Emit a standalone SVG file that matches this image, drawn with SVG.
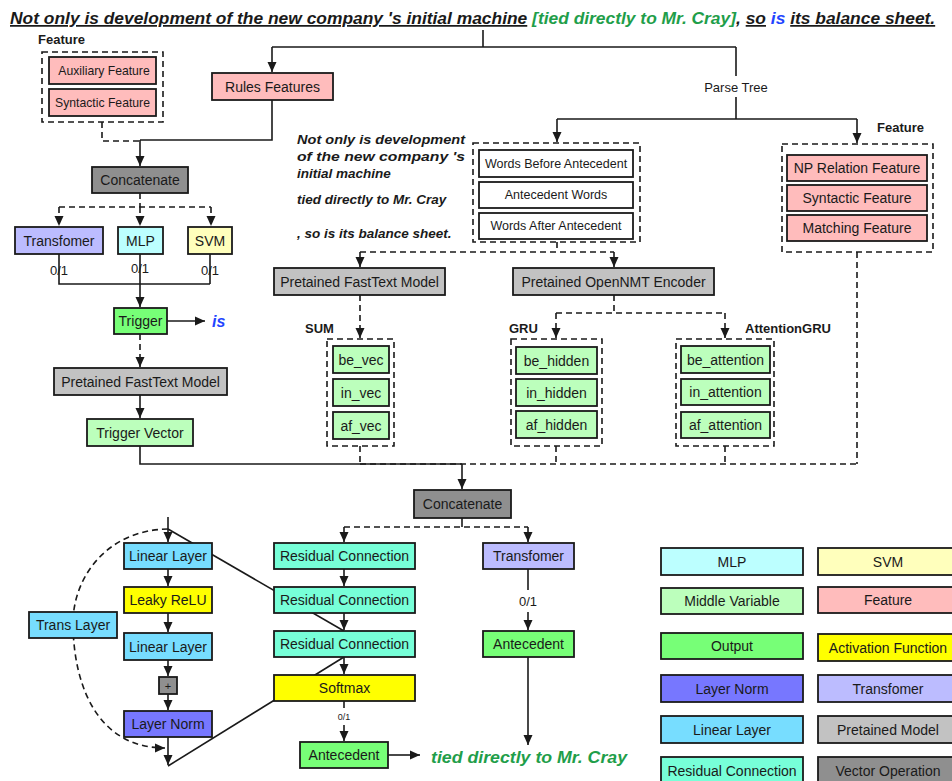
<svg xmlns="http://www.w3.org/2000/svg" width="952" height="781" viewBox="0 0 952 781">
<style>
text{font-family:"Liberation Sans",Arial,sans-serif;fill:#1a1a1a}
.b{stroke:#1a1a1a;stroke-width:1.8}
.t{font-size:14px;text-anchor:middle;dominant-baseline:central}
.ts{font-size:12.5px;text-anchor:middle;dominant-baseline:central}
.tf{font-size:12.2px;text-anchor:middle;dominant-baseline:central}
.lbl{font-size:13px;font-weight:bold}
.it{font-size:13.5px;font-weight:bold;font-style:italic}
.dbox{fill:none;stroke:#1a1a1a;stroke-width:1.6;stroke-dasharray:6,4}
.ln{fill:none;stroke:#1a1a1a;stroke-width:1.6}
.dl{fill:none;stroke:#1a1a1a;stroke-width:1.6;stroke-dasharray:6,4}
.pink{fill:#ffbcbc}.gray{fill:#c2c2c2}.dgray{fill:#8f8f8f}.lgreen{fill:#bcffbc}.green{fill:#77ff77}
.lav{fill:#bcbcff}.cyan{fill:#bcffff}.lyel{fill:#ffffbc}.yel{fill:#ffff00}.blue{fill:#7777ff}
.sky{fill:#77ddff}.teal{fill:#77ffd8}.white{fill:#ffffff}
.ttl{font-size:17.4px;font-weight:bold;font-style:italic}
.u{text-decoration:underline}
.n{font-size:13px;text-anchor:middle}
</style>
<defs>
<marker id="ah" markerWidth="10" markerHeight="10" refX="10" refY="5" orient="auto" markerUnits="userSpaceOnUse" viewBox="0 0 10 10">
<path d="M0,0.5 L10,5 L0,9.5 z" fill="#1a1a1a"/>
</marker>
</defs>
<rect width="952" height="781" fill="#ffffff"/>

<g id="title">
<text class="ttl" x="10" y="24"><tspan class="u">Not only is development of the new company 's initial machine</tspan> <tspan style="fill:#1f9e4a">[tied directly to Mr. Cray]</tspan>, <tspan class="u">so</tspan> <tspan style="fill:#2244ff">is</tspan> <tspan class="u">its balance sheet.</tspan></text>
</g>

<g id="connectors">
<path class="ln" d="M483,30 V47 M272,47 H736 M736,47 V76"/>
<path class="ln" d="M272,47 V72" marker-end="url(#ah)"/>
<path class="ln" d="M736,97 V119 M557,119 H857"/>
<path class="ln" d="M557,119 V142" marker-end="url(#ah)"/>
<path class="ln" d="M857,119 V143" marker-end="url(#ah)"/>
<path class="dl" d="M102,122 V141 H140"/>
<path class="ln" d="M272,100 V140 H140"/>
<path class="ln" d="M140,140 V166" marker-end="url(#ah)"/>
<path class="dl" d="M140,193 V207 M59,207 H211"/>
<path class="dl" d="M59,207 V226" marker-end="url(#ah)"/>
<path class="dl" d="M140,207 V226" marker-end="url(#ah)"/>
<path class="dl" d="M211,207 V226" marker-end="url(#ah)"/>
<path class="ln" d="M59,254 V284 H210 M210,254 V284"/>
<path class="ln" d="M140,254 V307" stroke-width="2" marker-end="url(#ah)"/>
<path class="ln" d="M167,321 H205" marker-end="url(#ah)"/>
<path class="dl" d="M140,334 V367" marker-end="url(#ah)"/>
<path class="ln" d="M140,395 V418" marker-end="url(#ah)"/>
<path class="ln" d="M140,446 V464 H462"/>
<path class="ln" d="M462,464 V489" marker-end="url(#ah)"/>
<path class="dl" d="M557,242 V252 M360,252 H614"/>
<path class="dl" d="M360,252 V267" marker-end="url(#ah)"/>
<path class="dl" d="M614,252 V267" marker-end="url(#ah)"/>
<path class="dl" d="M360,295 V338" marker-end="url(#ah)"/>
<path class="dl" d="M614,295 V313 M556,313 H725"/>
<path class="dl" d="M556,313 V338" marker-end="url(#ah)"/>
<path class="dl" d="M725,313 V338" marker-end="url(#ah)"/>
<path class="dl" d="M360,446 V464 M556,446 V464 M725,446 V464 M360,464 H857 M857,252 V464"/>
<path class="ln" d="M462,518 V527"/>
<path class="dl" d="M344,527 H528"/>
<path class="dl" d="M344,527 V542" marker-end="url(#ah)"/>
<path class="dl" d="M528,527 V542" marker-end="url(#ah)"/>
<path class="ln" d="M344,569 V586" marker-end="url(#ah)"/>
<path class="ln" d="M344,613 V630" marker-end="url(#ah)"/>
<path class="ln" d="M344,657 V674" marker-end="url(#ah)"/>
<path class="ln" d="M344,701 V708"/>
<path class="ln" d="M344,725 V741" marker-end="url(#ah)"/>
<path class="ln" d="M388,755 H420" marker-end="url(#ah)"/>
<path class="ln" d="M528,569 V590"/>
<path class="ln" d="M528,612 V630" marker-end="url(#ah)"/>
<path class="ln" d="M528,657 V745" marker-end="url(#ah)"/>
<path class="ln" d="M168,517 V542" marker-end="url(#ah)"/>
<path class="ln" d="M168,569 V586" marker-end="url(#ah)"/>
<path class="ln" d="M168,613 V632" marker-end="url(#ah)"/>
<path class="ln" d="M168,660 V676" marker-end="url(#ah)"/>
<path class="ln" d="M168,694 V710" marker-end="url(#ah)"/>
<path class="ln" d="M168,737 V765" marker-end="url(#ah)"/>
<path class="ln" d="M168,529 L344,631"/>
<path class="ln" d="M168,766 L344,657"/>
<path class="dl" d="M168,529 C105,530 72,580 73,625 C74,690 100,748 165,748" marker-end="url(#ah)"/>
<text class="n" x="59" y="275">0/1</text>
<text class="n" x="140" y="273">0/1</text>
<text class="n" x="210" y="275">0/1</text>
<text x="344" y="720" style="font-size:9px;text-anchor:middle">0/1</text>
<text class="n" x="528" y="606">0/1</text>
</g>

<g id="feature-left">
<text class="lbl" x="38" y="44">Feature</text>
<rect class="dbox" x="42" y="52" width="121" height="70"/>
</g>
<g id="auxiliary-feature"><rect class="b pink" x="49" y="57" width="107" height="27"/><text class="tf" x="104" y="70.5">Auxiliary Feature</text></g>
<g id="syntactic-feature-left"><rect class="b pink" x="49" y="89" width="107" height="27"/><text class="tf" x="102.5" y="102.5">Syntactic Feature</text></g>
<g id="rules-features"><rect class="b pink" x="212" y="73" width="121" height="27"/><text class="t" x="272.5" y="86.5">Rules Features</text></g>
<g id="parse-tree"><text class="t" x="736" y="87" style="font-size:13px">Parse Tree</text></g>
<g id="concatenate-left"><rect class="b dgray" x="92" y="167" width="96" height="26"/><text class="t" x="140" y="180">Concatenate</text></g>
<g id="transfomer-left"><rect class="b lav" x="15" y="227" width="88" height="27"/><text class="t" x="59" y="240.5">Transfomer</text></g>
<g id="mlp-left"><rect class="b cyan" x="118" y="227" width="45" height="27"/><text class="t" x="140.5" y="240.5">MLP</text></g>
<g id="svm-left"><rect class="b lyel" x="188" y="227" width="44" height="27"/><text class="t" x="210" y="240.5">SVM</text></g>
<g id="trigger"><rect class="b green" x="114" y="308" width="53" height="26"/><text class="t" x="140.5" y="321">Trigger</text></g>
<g id="is-label"><text x="212" y="327" style="font-size:16px;font-weight:bold;font-style:italic;fill:#2244ff">is</text></g>
<g id="fasttext-left"><rect class="b gray" x="54" y="368" width="173" height="27"/><text class="t" x="140.5" y="381.5">Pretained FastText Model</text></g>
<g id="trigger-vector"><rect class="b lgreen" x="87" y="419" width="106" height="27"/><text class="t" x="140" y="432.5">Trigger Vector</text></g>

<g id="sentence-text">
<text class="it" x="297" y="144" textLength="168" lengthAdjust="spacingAndGlyphs">Not only is development</text>
<text class="it" x="297" y="161" textLength="168" lengthAdjust="spacingAndGlyphs">of the new company 's</text>
<text class="it" x="297" y="178">initial machine</text>
<text class="it" x="297" y="204">tied directly to Mr. Cray</text>
<text class="it" x="297" y="238">, so is its balance sheet.</text>
</g>

<g id="words-group"><rect class="dbox" x="473" y="143" width="167" height="99"/></g>
<g id="words-before"><rect class="b white" x="479" y="150" width="154" height="27"/><text class="ts" x="556" y="163.5">Words Before Antecedent</text></g>
<g id="antecedent-words"><rect class="b white" x="479" y="182" width="154" height="26"/><text class="ts" x="556" y="195">Antecedent Words</text></g>
<g id="words-after"><rect class="b white" x="479" y="213" width="154" height="26"/><text class="ts" x="556" y="226">Words After Antecedent</text></g>

<g id="feature-right">
<text class="lbl" x="877" y="132">Feature</text>
<rect class="dbox" x="782" y="144" width="151" height="108"/>
</g>
<g id="np-relation"><rect class="b pink" x="787" y="155" width="140" height="26"/><text class="t" x="857" y="168">NP Relation Feature</text></g>
<g id="syntactic-feature-right"><rect class="b pink" x="787" y="185" width="140" height="26"/><text class="t" x="857" y="198">Syntactic Feature</text></g>
<g id="matching-feature"><rect class="b pink" x="787" y="215" width="140" height="26"/><text class="t" x="857" y="228">Matching Feature</text></g>

<g id="fasttext-mid"><rect class="b gray" x="274" y="268" width="171" height="27"/><text class="t" x="359.5" y="281.5">Pretained FastText Model</text></g>
<g id="opennmt"><rect class="b gray" x="513" y="268" width="201" height="27"/><text class="t" x="613.5" y="281.5">Pretained OpenNMT Encoder</text></g>

<g id="sum-group"><text class="lbl" x="305" y="333">SUM</text><rect class="dbox" x="327" y="339" width="67" height="107"/></g>
<g id="be-vec"><rect class="b lgreen" x="333" y="346" width="56" height="27"/><text class="t" x="361" y="359.5">be_vec</text></g>
<g id="in-vec"><rect class="b lgreen" x="333" y="379" width="56" height="27"/><text class="t" x="361" y="392.5">in_vec</text></g>
<g id="af-vec"><rect class="b lgreen" x="333" y="412" width="56" height="27"/><text class="t" x="361" y="425.5">af_vec</text></g>

<g id="gru-group"><text class="lbl" x="509" y="333">GRU</text><rect class="dbox" x="511" y="339" width="91" height="107"/></g>
<g id="be-hidden"><rect class="b lgreen" x="516" y="347" width="81" height="27"/><text class="t" x="556.5" y="360.5">be_hidden</text></g>
<g id="in-hidden"><rect class="b lgreen" x="516" y="379" width="81" height="27"/><text class="t" x="556.5" y="392.5">in_hidden</text></g>
<g id="af-hidden"><rect class="b lgreen" x="516" y="411" width="81" height="27"/><text class="t" x="556.5" y="424.5">af_hidden</text></g>

<g id="attention-group"><text class="lbl" x="745" y="333">AttentionGRU</text><rect class="dbox" x="676" y="339" width="98" height="107"/></g>
<g id="be-attention"><rect class="b lgreen" x="681" y="346" width="89" height="27"/><text class="t" x="725.5" y="359.5">be_attention</text></g>
<g id="in-attention"><rect class="b lgreen" x="681" y="379" width="89" height="26"/><text class="t" x="725.5" y="392">in_attention</text></g>
<g id="af-attention"><rect class="b lgreen" x="681" y="412" width="89" height="26"/><text class="t" x="725.5" y="425">af_attention</text></g>

<g id="concatenate-mid"><rect class="b dgray" x="414" y="490" width="97" height="28"/><text class="t" x="462.5" y="504">Concatenate</text></g>

<g id="trans-layer"><rect class="b sky" x="29" y="612" width="88" height="26"/><text class="t" x="73" y="625">Trans Layer</text></g>
<g id="linear-layer-1"><rect class="b sky" x="124" y="543" width="88" height="26"/><text class="t" x="168" y="556">Linear Layer</text></g>
<g id="leaky-relu"><rect class="b yel" x="124" y="587" width="88" height="26"/><text class="t" x="168" y="600">Leaky ReLU</text></g>
<g id="linear-layer-2"><rect class="b sky" x="124" y="633" width="88" height="27"/><text class="t" x="168" y="646.5">Linear Layer</text></g>
<g id="plus"><rect class="b dgray" x="159" y="677" width="18" height="17"/><text class="t" x="168" y="685.5" style="font-size:11px">+</text></g>
<g id="layer-norm"><rect class="b blue" x="124" y="711" width="88" height="26"/><text class="t" x="168" y="724">Layer Norm</text></g>

<g id="residual-1"><rect class="b teal" x="274" y="543" width="141" height="26"/><text class="t" x="344.5" y="556">Residual Connection</text></g>
<g id="residual-2"><rect class="b teal" x="274" y="587" width="141" height="26"/><text class="t" x="344.5" y="600">Residual Connection</text></g>
<g id="residual-3"><rect class="b teal" x="274" y="631" width="141" height="26"/><text class="t" x="344.5" y="644">Residual Connection</text></g>
<g id="softmax"><rect class="b yel" x="274" y="675" width="141" height="26"/><text class="t" x="344.5" y="688">Softmax</text></g>
<g id="antecedent-bottom"><rect class="b green" x="300" y="742" width="88" height="26"/><text class="t" x="344" y="755">Antecedent</text></g>
<g id="cray-label"><text x="431" y="763" style="font-size:17px;font-weight:bold;font-style:italic;fill:#1f9e4a" textLength="196" lengthAdjust="spacingAndGlyphs">tied directly to Mr. Cray</text></g>
<g id="transfomer-right"><rect class="b lav" x="483" y="543" width="91" height="26"/><text class="t" x="528.5" y="556">Transfomer</text></g>
<g id="antecedent-right"><rect class="b green" x="483" y="631" width="91" height="26"/><text class="t" x="528.5" y="644">Antecedent</text></g>

<g id="legend-mlp"><rect class="b cyan" x="661" y="548" width="142" height="27"/><text class="t" x="732" y="561.5">MLP</text></g>
<g id="legend-svm"><rect class="b lyel" x="818" y="548" width="140" height="27"/><text class="t" x="888" y="561.5">SVM</text></g>
<g id="legend-middle"><rect class="b lgreen" x="661" y="588" width="142" height="26"/><text class="t" x="732" y="601">Middle Variable</text></g>
<g id="legend-feature"><rect class="b pink" x="818" y="587" width="140" height="26"/><text class="t" x="888" y="600">Feature</text></g>
<g id="legend-output"><rect class="b green" x="661" y="633" width="142" height="26"/><text class="t" x="732" y="646">Output</text></g>
<g id="legend-activation"><rect class="b yel" x="818" y="634" width="140" height="27"/><text class="t" x="888" y="647.5">Activation Function</text></g>
<g id="legend-layernorm"><rect class="b blue" x="661" y="675" width="142" height="27"/><text class="t" x="732" y="688.5">Layer Norm</text></g>
<g id="legend-transfomer"><rect class="b lav" x="818" y="675" width="140" height="27"/><text class="t" x="888" y="688.5">Transfomer</text></g>
<g id="legend-linear"><rect class="b sky" x="661" y="716" width="142" height="27"/><text class="t" x="732" y="729.5">Linear Layer</text></g>
<g id="legend-pretained"><rect class="b gray" x="818" y="716" width="140" height="27"/><text class="t" x="888" y="729.5">Pretained Model</text></g>
<g id="legend-residual"><rect class="b teal" x="661" y="757" width="142" height="27"/><text class="t" x="732" y="770.5">Residual Connection</text></g>
<g id="legend-vector"><rect class="b dgray" x="818" y="757" width="140" height="27"/><text class="t" x="888" y="770.5">Vector Operation</text></g>
</svg>
